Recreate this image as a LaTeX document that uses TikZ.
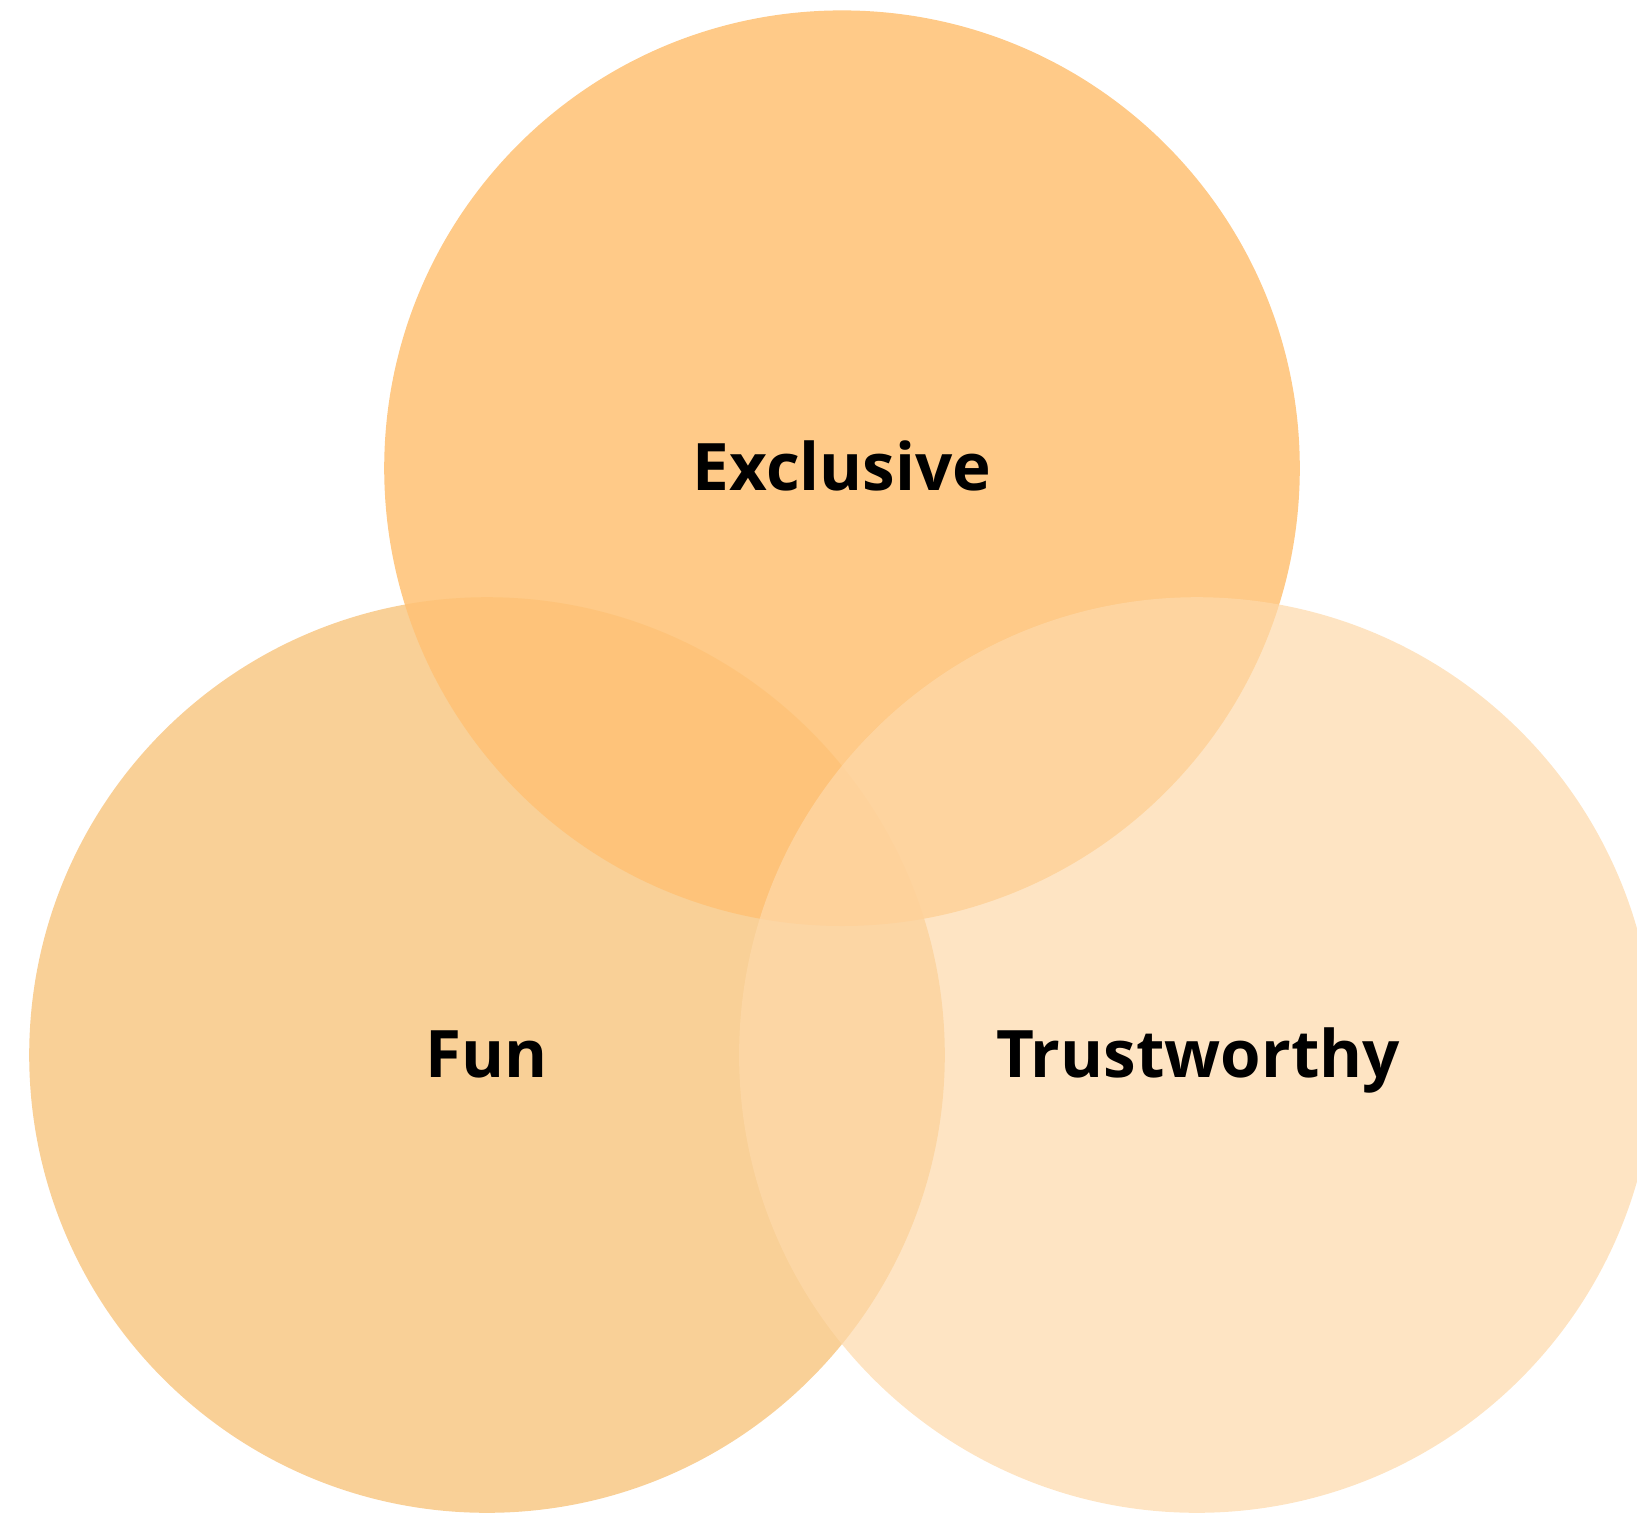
\documentclass[tikz,border=0pt]{standalone}
\usepackage{fontspec}
\setmainfont{Open Sans}
\definecolor{cTop}{RGB}{255,194,118}
\definecolor{cLeft}{RGB}{249,208,151}
\definecolor{cRight}{RGB}{254,217,170}
\tikzset{
  venn/.style={circle, draw=none, minimum size=915.6pt, inner sep=0pt},
  lbl/.style={anchor=base, inner sep=0pt, font=\fontsize{65.5}{78}\selectfont\bfseries, text=black}
}
\begin{document}
\begin{tikzpicture}[x=1pt,y=-1pt]
\useasboundingbox (0,0) rectangle (1637,1513);
\clip (0,0) rectangle (1637,1513);
\node[venn, fill=cLeft] (left) at (487,1055) {};
\node[venn, fill=cTop, fill opacity=0.87] (top) at (842,468.2) {};
\node[venn, fill=cRight, fill opacity=0.7] (right) at (1196.9,1055) {};
\node[lbl] (ltop) at (842,490.5) {Exclusive};
\node[lbl] (lleft) at (487,1077.5) {Fun};
\node[lbl] (lright) at (1198,1077.5) {Trustworthy};
\end{tikzpicture}
\end{document}
